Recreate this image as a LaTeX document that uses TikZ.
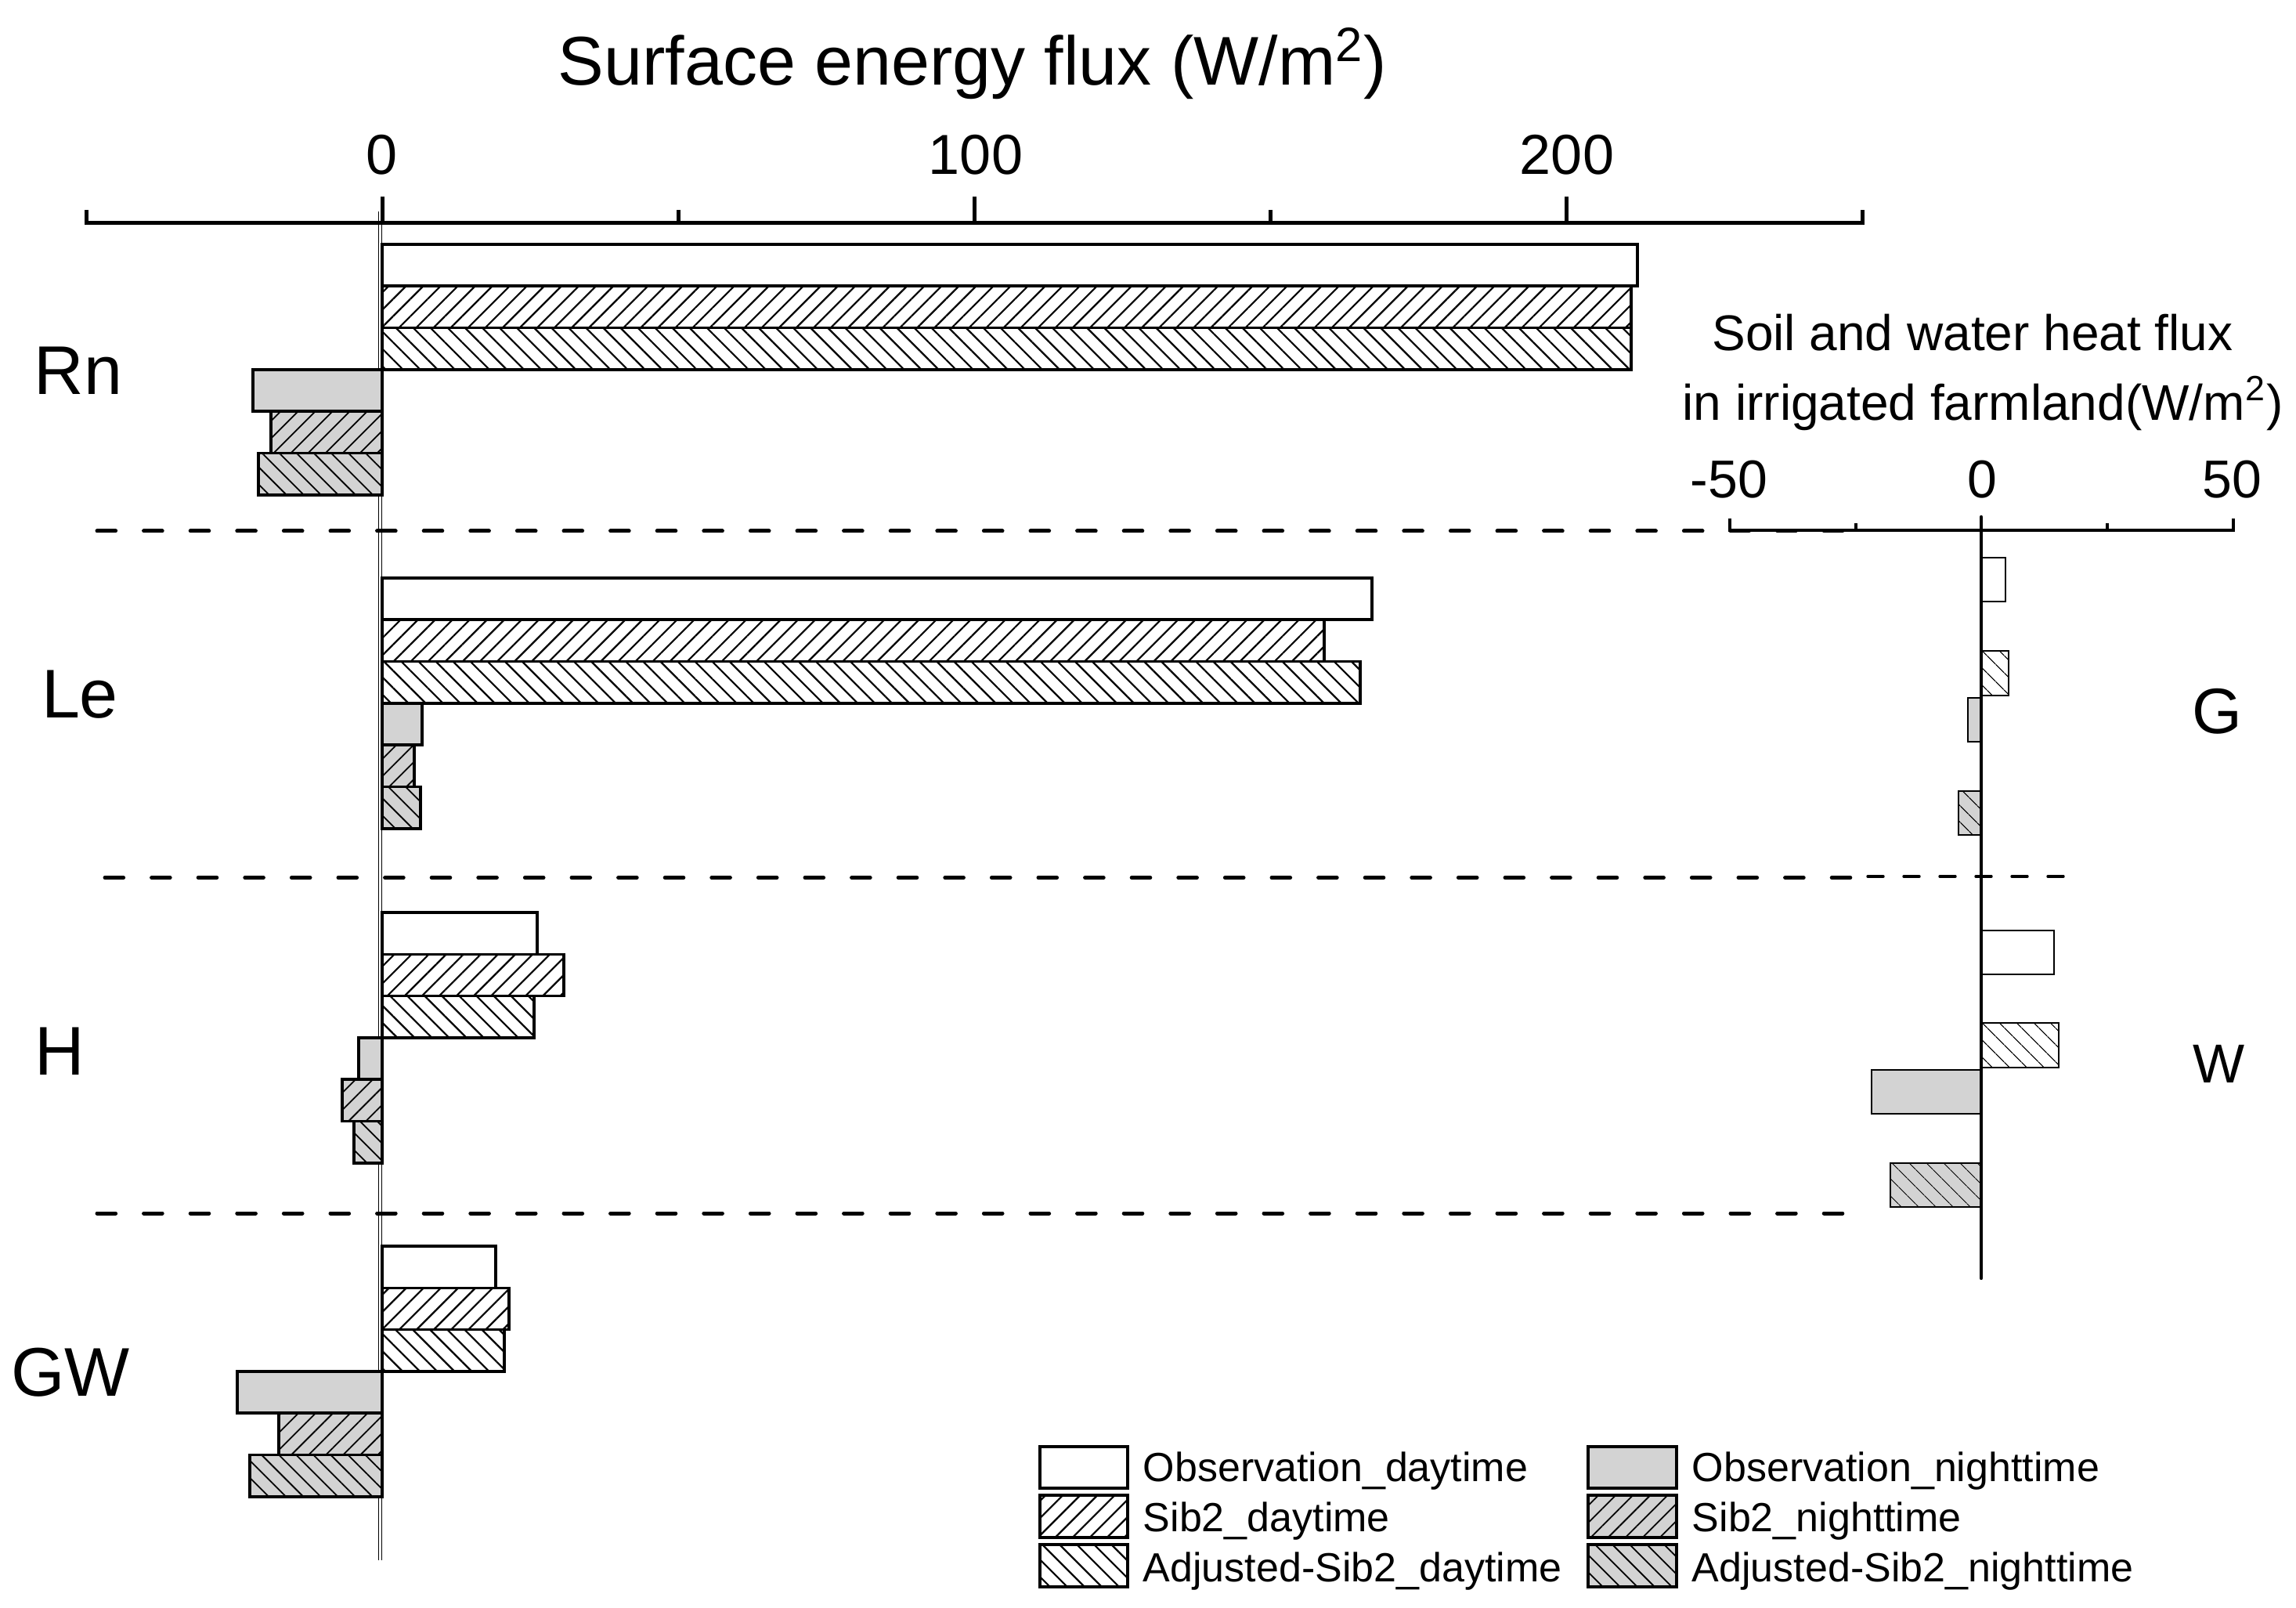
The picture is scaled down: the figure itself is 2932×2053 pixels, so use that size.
\documentclass[tikz,border=0pt]{standalone}
\usepackage{fontspec}
\setmainfont{Liberation Sans}
\usetikzlibrary{patterns.meta}
\definecolor{barg}{RGB}{211,211,211}
\tikzset{
  bl/.style={line width=0.9pt, line join=miter, draw=black},
  obsd/.style={bl, fill=white},
  sibd/.style={bl, preaction={fill=white}, pattern={Lines[angle=45,distance=3.9pt,line width=0.55pt]}, pattern color=black},
  adjd/.style={bl, preaction={fill=white}, pattern={Lines[angle=-45,distance=3.9pt,line width=0.55pt]}, pattern color=black},
  obsn/.style={bl, fill=barg},
  sibn/.style={bl, preaction={fill=barg}, pattern={Lines[angle=45,distance=3.9pt,line width=0.45pt]}, pattern color=black},
  adjn/.style={bl, preaction={fill=barg}, pattern={Lines[angle=-45,distance=3.9pt,line width=0.45pt]}, pattern color=black},
  rl/.style={line width=0.5pt, draw=black},
  robsd/.style={rl, fill=white},
  radjd/.style={rl, preaction={fill=white}, pattern={Lines[angle=-45,distance=4pt,line width=0.3pt]}, pattern color=black},
  robsn/.style={rl, fill=barg},
  radjn/.style={rl, preaction={fill=barg}, pattern={Lines[angle=-45,distance=4pt,line width=0.3pt]}, pattern color=black},
  sep/.style={line width=1.25pt, line cap=round, dash pattern=on 5.9pt off 9pt},
  thinsep/.style={line width=0.85pt, line cap=round, dash pattern=on 5pt off 6.5pt},
  ax/.style={line width=1.25pt},
  rax/.style={line width=1pt},
  zl/.style={line width=0.45pt},
  ttl/.style={font=\fontsize{22}{26}\selectfont, anchor=base, inner sep=0pt},
  tkl/.style={font=\fontsize{18}{22}\selectfont, anchor=base, inner sep=0pt},
  rtk/.style={font=\fontsize{17}{20}\selectfont, anchor=base, inner sep=0pt},
  rtt/.style={font=\fontsize{16}{19}\selectfont, anchor=base, inner sep=0pt},
  grp/.style={font=\fontsize{22}{26}\selectfont, anchor=base, inner sep=0pt},
  leg/.style={font=\fontsize{13}{16}\selectfont, anchor=base west, inner sep=0pt},
}
\begin{document}
\begin{tikzpicture}[x=0.25pt,y=-0.25pt]
\useasboundingbox (0,0) rectangle (2932,2053);

% ---- titles ----
\node[ttl] (title) at (1242,109) {Surface energy flux (W/m\textsuperscript{2})};
\node[tkl] (t0) at (488,223) {0};
\node[tkl] (t100) at (1246,223) {100};
\node[tkl] (t200) at (2001,223) {200};

% ---- top axis ----
\draw[ax] (110,268) -- (110,285) -- (2378,285) -- (2378,268);
\draw[ax] (488,251) -- (488,285);
\draw[ax] (1244,251) -- (1244,285);
\draw[ax] (2000,251) -- (2000,285);
\draw[ax] (866,268) -- (866,285);
\draw[ax] (1622,268) -- (1622,285);

% ---- zero line ----
\draw[zl] (483.5,270) -- (483.5,1992);
\draw[zl] (487.5,270) -- (487.5,1992);

% ---- separators ----
\draw[sep] (124,678) -- (2366,678);
\draw[sep] (134,1120.5) -- (2370,1120.5);
\draw[thinsep] (2385,1119) -- (2646,1119);
\draw[sep] (124,1549) -- (2373,1549);

% ---- Rn ----
\draw[obsd] (488,312) rectangle (2091,365.3);
\draw[sibd] (488,365.3) rectangle (2083,418.6);
\draw[adjd] (488,418.6) rectangle (2083,471.9);
\draw[obsn] (323,471.9) rectangle (488,525.2);
\draw[sibn] (346,525.2) rectangle (488,578.5);
\draw[adjn] (330,578.5) rectangle (488,631.8);

% ---- Le ----
\draw[obsd] (488,738) rectangle (1752,791.3);
\draw[sibd] (488,791.3) rectangle (1691,844.6);
\draw[adjd] (488,844.6) rectangle (1737,897.9);
\draw[obsn] (488,897.9) rectangle (539,951.2);
\draw[sibn] (488,951.2) rectangle (529,1004.5);
\draw[adjn] (488,1004.5) rectangle (537,1057.8);

% ---- H ----
\draw[obsd] (488,1165) rectangle (686,1218.3);
\draw[sibd] (488,1218.3) rectangle (720,1271.6);
\draw[adjd] (488,1271.6) rectangle (682,1324.9);
\draw[obsn] (458,1324.9) rectangle (488,1378.2);
\draw[sibn] (437,1378.2) rectangle (488,1431.5);
\draw[adjn] (452,1431.5) rectangle (488,1484.8);

% ---- GW ----
\draw[obsd] (488,1591) rectangle (633,1644.3);
\draw[sibd] (488,1644.3) rectangle (650,1697.6);
\draw[adjd] (488,1697.6) rectangle (644,1750.9);
\draw[obsn] (303,1750.9) rectangle (488,1804.2);
\draw[sibn] (356,1804.2) rectangle (488,1857.5);
\draw[adjn] (319,1857.5) rectangle (488,1910.8);

% ---- group labels ----
\node[grp] (lRn) at (100,504) {Rn};
\node[grp] (lLe) at (102,917) {Le};
\node[grp] (lH) at (76,1372) {H};
\node[grp] (lGW) at (90,1782) {GW};

% ---- right panel ----
\node[rtt] (rt1) at (2519,448) {Soil and water heat flux};
\node[rtt] (rt2) at (2532,537) {in irrigated farmland(W/m\textsuperscript{2})};
\node[rtk] (rm50) at (2208,636) {-50};
\node[rtk] (r0) at (2531,636) {0};
\node[rtk] (r50) at (2850,636) {50};
\draw[rax] (2209,662) -- (2209,677) -- (2852,677) -- (2852,662);
\draw[rax] (2370,668) -- (2370,677);
\draw[rax] (2691,668) -- (2691,677);

% G
\draw[robsd] (2530,712) rectangle (2561,768);
\draw[radjd] (2530,831) rectangle (2565,888);
\draw[robsn] (2513,891) rectangle (2530,947);
\draw[radjn] (2501,1010) rectangle (2530,1066);
% W
\draw[robsd] (2530,1188) rectangle (2623,1244);
\draw[radjd] (2530,1306) rectangle (2629,1363);
\draw[robsn] (2390,1366) rectangle (2530,1422);
\draw[radjn] (2414,1485) rectangle (2530,1541);

\draw[line width=1.1pt, line cap=round] (2530,660) -- (2530,1632);

\node[font=\fontsize{20.5}{24}\selectfont, anchor=base, inner sep=0pt] (lG) at (2831,936) {G};
\node[font=\fontsize{17.5}{21}\selectfont, anchor=base, inner sep=0pt] (lW) at (2833,1382) {W};

% ---- legend ----
\draw[obsd] (1328,1847) rectangle (1440,1900);
\draw[sibd] (1328,1909) rectangle (1440,1963);
\draw[adjd] (1328,1972) rectangle (1440,2026);
\draw[obsn] (2028,1847) rectangle (2141,1900);
\draw[sibn] (2028,1909) rectangle (2141,1963);
\draw[adjn] (2028,1972) rectangle (2141,2026);
\node[leg] (g1) at (1459,1891) {Observation\_daytime};
\node[leg] (g2) at (1459,1955) {Sib2\_daytime};
\node[leg] (g3) at (1459,2019) {Adjusted-Sib2\_daytime};
\node[leg] (g4) at (2160,1891) {Observation\_nighttime};
\node[leg] (g5) at (2160,1955) {Sib2\_nighttime};
\node[leg] (g6) at (2160,2019) {Adjusted-Sib2\_nighttime};
\end{tikzpicture}
\end{document}
